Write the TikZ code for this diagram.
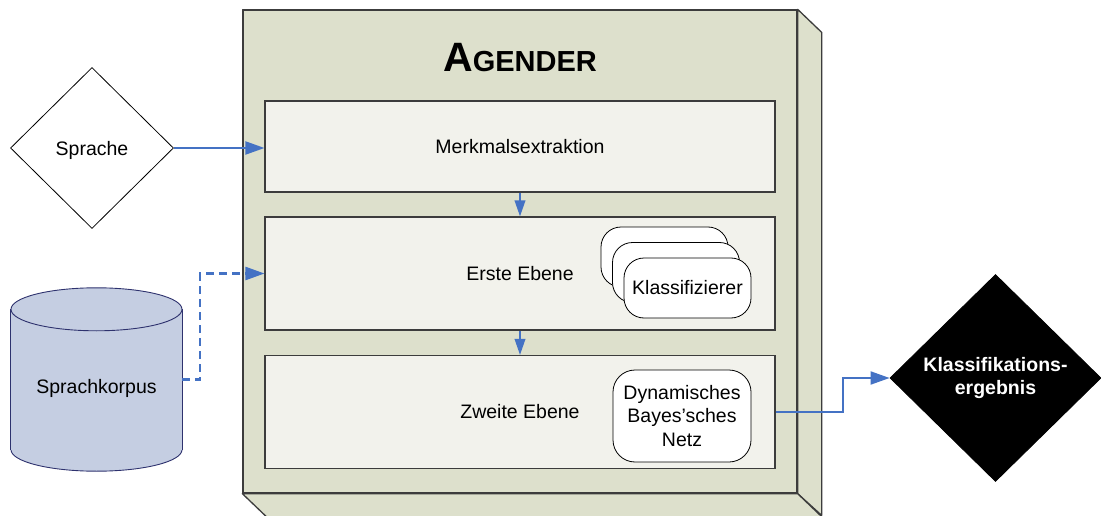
\documentclass[tikz,border=0pt]{standalone}
\usepackage{fontspec}
\setmainfont{Liberation Sans}
\usetikzlibrary{shapes.geometric,arrows.meta,calc}

\definecolor{framefill}{RGB}{221,224,204}
\definecolor{framedraw}{RGB}{60,60,60}
\definecolor{layerfill}{RGB}{242,242,236}
\definecolor{cylfill}{RGB}{197,206,226}
\definecolor{cyldraw}{RGB}{46,50,110}
\definecolor{flowblue}{RGB}{68,114,196}

\begin{document}
\begin{tikzpicture}[x=1pt,y=-1pt,
  every node/.style={font=\fontsize{19.5}{23.5}\selectfont},
  frame/.style={draw=framedraw, line width=1.3pt, fill=framefill, line join=round},
  layer/.style={draw=framedraw, line width=1.1pt, fill=layerfill, minimum width=510pt},
  pill/.style={draw=black, line width=0.8pt, fill=white, rounded corners=20pt,
    minimum width=127pt, minimum height=60pt, inner sep=0pt},
  decision/.style={diamond, draw=black, line width=0.8pt, inner sep=0pt, align=center},
  flow/.style={draw=flowblue, line width=2pt, -{Triangle[length=19pt,width=13pt]}},
  flowsmall/.style={draw=flowblue, line width=2pt, -{Triangle[length=16pt,width=10.5pt]}},
  feed/.style={draw=flowblue, line width=2.4pt, dash pattern=on 8pt off 5pt,
    -{Triangle[length=19pt,width=13pt]}},
]
\useasboundingbox (0,0) rectangle (1101,516);
\clip (0,0) rectangle (1101,516);

% ---- system block (3D box) ----
\node[frame, minimum width=554pt, minimum height=483pt, inner sep=0pt] (agender) at (520,251.5) {};
\draw[frame] (agender.north east) -- ++(24,23) -- ++(0,483) -- (agender.south east) -- cycle;
\draw[frame] (agender.south west) -- (agender.south east) -- ++(24,23)
  -- ($(agender.south west)+(24,23)$) -- cycle;
\node[frame, minimum width=554pt, minimum height=483pt, inner sep=0pt] at (agender.center) {};

\node (title) at (520,57.5)
  {\bfseries\fontsize{41}{41}\selectfont A\fontsize{29}{29}\selectfont GENDER};

% ---- processing layers ----
\node[layer, minimum height=91pt] (merkmal) at (520,146.5) {Merkmalsextraktion};
\node[layer, minimum height=113pt] (erste) at (520,273.5) {Erste Ebene};
\node[layer, minimum height=113pt] (zweite) at (520,412) {Zweite Ebene};

% stacked classifiers
\node[pill] (k1) at (664.5,257) {};
\node[pill] (k2) at (676,272.5) {};
\node[pill] (k3) at (687.5,288) {Klassifizierer};

% dynamic Bayesian network
\node[pill, rounded corners=22pt, minimum width=138pt, minimum height=92pt, align=center]
  (dbn) at (682,416) {Dynamisches\\Bayes'sches\\Netz};

% ---- inputs ----
\node[decision, minimum width=163pt, minimum height=161pt, text depth=0pt] (sprache) at (92,148) {Sprache};

\node[minimum width=171pt, minimum height=183pt, inner sep=0pt] (korpus) at (96.5,379.5) {};
\filldraw[fill=cylfill, draw=cyldraw, line width=0.9pt]
  ($(korpus.south)-(0,21.5)$) ellipse[x radius=85.5, y radius=21.5];
\fill[cylfill] ($(korpus.north west)+(0,21.5)$) rectangle ($(korpus.south east)-(0,21.5)$);
\draw[cyldraw, line width=0.9pt]
  ($(korpus.north west)+(0,21.5)$) -- ($(korpus.south west)-(0,21.5)$)
  ($(korpus.north east)+(0,21.5)$) -- ($(korpus.south east)-(0,21.5)$);
\filldraw[fill=cylfill, draw=cyldraw, line width=0.9pt]
  ($(korpus.north)+(0,21.5)$) ellipse[x radius=85.5, y radius=21.5];
\node (korpuslabel) at ($(korpus.center)+(0,9)$) {Sprachkorpus};

% ---- output ----
\node[decision, fill=black, text=white, font=\fontsize{19.5}{23.5}\selectfont\bfseries,
  minimum width=211pt, minimum height=207pt] (result) at (995.5,378) 
  {Klassifikations-\\ergebnis};

% ---- connectors ----
\draw[flow] (sprache.east) -- (sprache.east -| merkmal.west);
\draw[feed] (korpus.east) -- ++(18,0) |- (erste.west);
\draw[flowsmall] (merkmal.south) -- (erste.north);
\draw[flowsmall] (erste.south) -- (zweite.north);
\draw[flow] (zweite.east) -- ++(67,0) |- (result.west);
\end{tikzpicture}
\end{document}
